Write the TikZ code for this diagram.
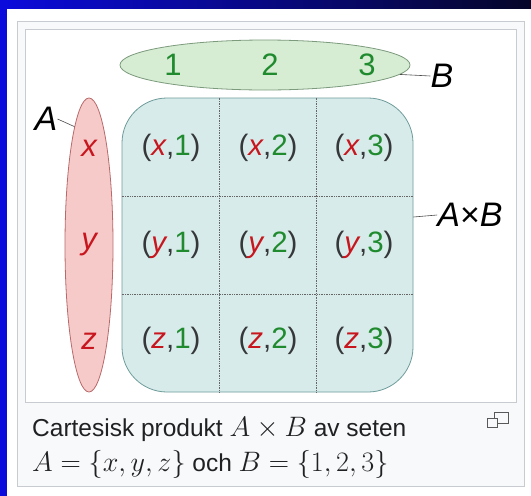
\documentclass[tikz,border=0pt]{standalone}
\usepackage[no-math]{fontspec}
\setmainfont{Liberation Sans}
\usepackage{graphicx}
\usepackage{xcolor}
\usetikzlibrary{shapes.geometric, positioning, calc}

\definecolor{bgblue}{HTML}{0B0BDC}
\definecolor{bgnavy}{HTML}{050528}
\definecolor{framegray}{HTML}{C8CCD1}
\definecolor{capbg}{HTML}{F8F9FA}
\definecolor{captext}{HTML}{202122}
\definecolor{elred}{HTML}{C8161E}
\definecolor{elgreen}{HTML}{1F8A2E}
\definecolor{fillA}{HTML}{F7CACA}
\definecolor{lineA}{HTML}{B86A6A}
\definecolor{fillB}{HTML}{D6EDD3}
\definecolor{lineB}{HTML}{7C9A7C}
\definecolor{fillAB}{HTML}{D7EBEB}
\definecolor{lineAB}{HTML}{6E9C9A}

\newcommand{\capmath}[1]{\scalebox{1.13}{$#1$}}

\begin{document}
\begin{tikzpicture}[x=1pt, y=-1pt,
  bag/.style={ellipse, draw, inner sep=0pt, line width=0.8pt},
  pairbox/.style={draw=lineAB, fill=fillAB, rounded corners=45pt, line width=0.8pt,
                  minimum width=291pt, minimum height=294pt, inner sep=0pt},
  elem/.style={inner sep=0pt, font=\fontsize{31}{36}\selectfont},
  pair/.style={inner sep=0pt, text=captext!90, font=\fontsize{29.5}{34}\selectfont},
  setname/.style={inner sep=0pt, font=\fontsize{34}{40}\selectfont\itshape},
  lead/.style={draw=black!70, line width=0.6pt},
  grid/.style={draw=black!60, densely dotted, line width=0.7pt},
  frame/.style={draw=framegray, line width=0.8pt},
  caption/.style={inner sep=0pt, anchor=base west, text=captext,
              font=\fontsize{24.5}{30}\selectfont}]
  % background and page card
  \useasboundingbox (0,0) rectangle (531,496);
  \shade[left color=bgblue, right color=bgnavy] (0,0) rectangle (531,496);
  \fill[bgblue] (0,0) rectangle (7,496);
  \fill[white] (7,9) rectangle (531,496);
  \draw[frame, fill=capbg] (17,21) rectangle (524,486);
  \draw[frame, fill=white] (25,29) rectangle (516,402);

  % the three sets
  \node[bag, draw=lineB, fill=fillB, minimum width=290pt, minimum height=50pt] (setB) at (265,65) {};
  \node[bag, draw=lineA, fill=fillA, minimum width=48pt, minimum height=294pt] (setA) at (89,245) {};
  \node[pairbox] (prod) at (267.5,245) {};
  \foreach \f in {1/3,2/3} {
    \draw[grid] ($(prod.north west)!\f!(prod.north east)$) -- ($(prod.south west)!\f!(prod.south east)$);
    \draw[grid] ($(prod.north west)!\f!(prod.south west)$) -- ($(prod.north east)!\f!(prod.south east)$);
  }

  % elements
  \foreach \b/\x in {1/173,2/270,3/367}
    \node[elem, text=elgreen] (b\b) at (\x,65) {\b};
  \foreach \a/\y in {x/148,y/245,z/341}
    \node[elem, text=elred, font=\fontsize{31}{36}\selectfont\itshape] (a\a) at (89,\y) {\a};
  \foreach \a/\y in {x/148,y/245,z/341}
    \foreach \b/\x in {1/171,2/268,3/364}
      \node[pair] (p\a\b) at (\x,\y) {(\textcolor{elred}{\itshape\a},\textcolor{elgreen}{\b})};

  % set names
  \node[setname] (labA) at (46,119) {A};
  \node[setname] (labB) at (442,76) {B};
  \node[setname] (labAB) at (470,215) {A\textup{×}B};
  \draw[lead] (labA.east) -- (setA.97);
  \draw[lead] (setB.-4) -- (labB.west);
  \draw[lead] ([yshift=28pt]prod.east) -- (labAB.west);

  % caption
  \node[caption] (cap1) at (32,436) {Cartesisk produkt \capmath{A\times B} av seten};
  \node[caption] (cap2) at (32,471) {\capmath{A=\{x,y,z\}} och \capmath{B=\{1,2,3\}}};
  \draw[draw=black!65, line width=0.9pt, fill=capbg] (494,412) rectangle (508,423);
  \draw[draw=black!65, line width=0.9pt, fill=capbg] (487,418) rectangle (497,427);
\end{tikzpicture}
\end{document}
